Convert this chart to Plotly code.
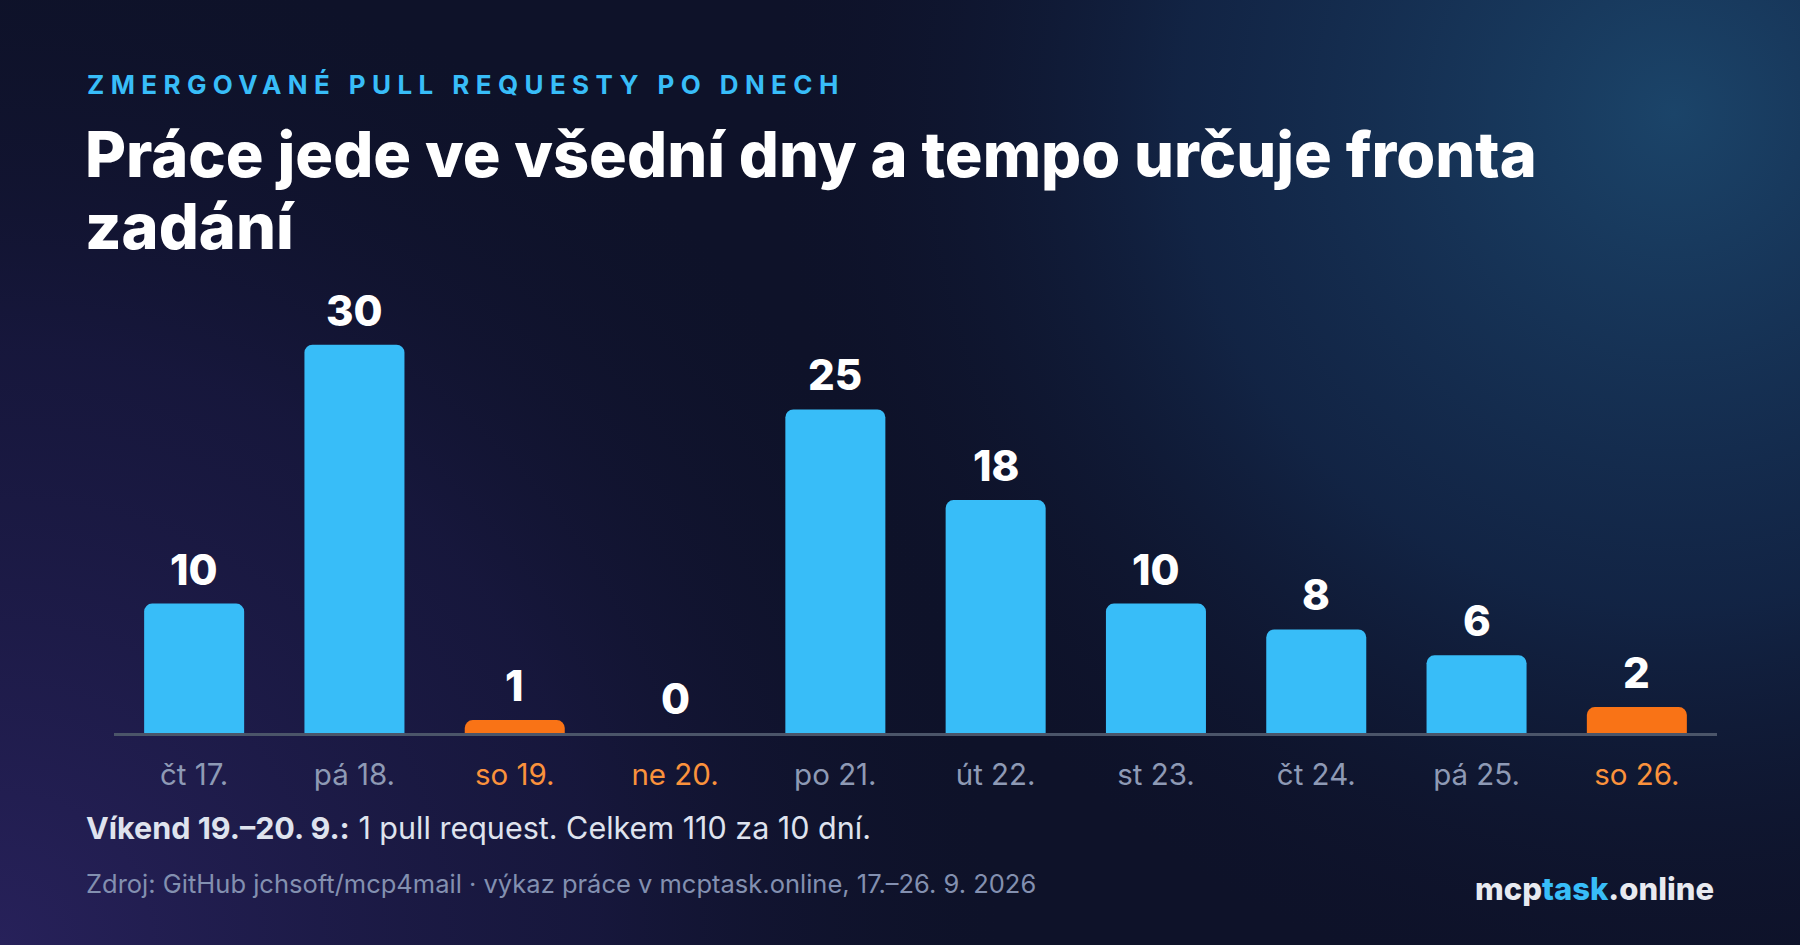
import base64
import plotly.graph_objects as go

# data
days = ['čt 17.', 'pá 18.', 'so 19.', 'ne 20.', 'po 21.', 'út 22.', 'st 23.', 'čt 24.', 'pá 25.', 'so 26.']
merged_prs = [10, 30, 1, 0, 25, 18, 10, 8, 6, 2]
weekend = [False, False, True, True, False, False, False, False, False, True]

eyebrow = 'ZMERGOVANÉ PULL REQUESTY PO DNECH'
headline = ['Práce jede ve všední dny a tempo určuje fronta', 'zadání']
note_bold = 'Víkend 19.–20. 9.:'
note_rest = ' 1 pull request. Celkem 110 za 10 dní.'
source = 'Zdroj: GitHub jchsoft/mcp4mail · výkaz práce v mcptask.online, 17.–26. 9. 2026'

BLUE = '#38bdf8'
ORANGE = '#f97316'
FONT = 'Inter, Roboto, sans-serif'

#%% layout helpers
W, H = 1800, 945
ml, mr, mt, mb = 114, 83, 293, 212
pw = W - ml - mr
ph = H - mt - mb
y_max = 34


def px_x(px):
    return (px - ml) / pw


def px_y(py):
    return (H - mb - py) / ph


# background gradient as an svg image
bg_svg = f"""<svg xmlns='http://www.w3.org/2000/svg' width='{W}' height='{H}' viewBox='0 0 {W} {H}'>
<defs>
<radialGradient id='tr' cx='{W*0.93}' cy='{H*0.12}' r='900' gradientUnits='userSpaceOnUse'>
<stop offset='0' stop-color='#1b4469' stop-opacity='1'/>
<stop offset='0.55' stop-color='#15325a' stop-opacity='0.55'/>
<stop offset='1' stop-color='#0f1430' stop-opacity='0'/>
</radialGradient>
<radialGradient id='bl' cx='0' cy='{H}' r='1000' gradientUnits='userSpaceOnUse'>
<stop offset='0' stop-color='#27215a' stop-opacity='1'/>
<stop offset='0.6' stop-color='#1c1a48' stop-opacity='0.6'/>
<stop offset='1' stop-color='#10132e' stop-opacity='0'/>
</radialGradient>
</defs>
<rect width='100%' height='100%' fill='#0e1229'/>
<rect width='100%' height='100%' fill='url(#bl)'/>
<rect width='100%' height='100%' fill='url(#tr)'/>
</svg>"""
bg_uri = 'data:image/svg+xml;base64,' + base64.b64encode(bg_svg.encode('utf-8')).decode()

#%% figure
colors = [ORANGE if w else BLUE for w in weekend]
tick_text = [f'<span style="color:#fb923c">{d}</span>' if w else d for d, w in zip(days, weekend)]

fig = go.Figure(go.Bar(
    x=days,
    y=merged_prs,
    marker=dict(color=colors, cornerradius=8, line_width=0),
    hoverinfo='skip',
))

annotations = []
for d, v in zip(days, merged_prs):
    annotations.append(dict(
        x=d, y=v, xref='x', yref='y', text=str(v), showarrow=False,
        yanchor='bottom', yshift=7,
        font=dict(family=FONT, size=42, color='white', weight=800),
    ))

annotations += [
    dict(x=px_x(85), y=px_y(84.5), xref='paper', yref='paper', text=eyebrow,
         showarrow=False, xanchor='left', yanchor='middle', align='left',
         font=dict(family=FONT, size=26, color=BLUE, weight=700)),
    dict(x=px_x(83), y=px_y(154), xref='paper', yref='paper', text=headline[0],
         showarrow=False, xanchor='left', yanchor='middle',
         font=dict(family=FONT, size=63, color='white', weight=800)),
    dict(x=px_x(83), y=px_y(226), xref='paper', yref='paper', text=headline[1],
         showarrow=False, xanchor='left', yanchor='middle',
         font=dict(family=FONT, size=63, color='white', weight=800)),
    dict(x=px_x(84), y=px_y(827.5), xref='paper', yref='paper',
         text=f'<b>{note_bold}</b>{note_rest}',
         showarrow=False, xanchor='left', yanchor='middle',
         font=dict(family=FONT, size=30.5, color='#dfe3ee')),
    dict(x=px_x(84), y=px_y(883), xref='paper', yref='paper', text=source,
         showarrow=False, xanchor='left', yanchor='middle',
         font=dict(family=FONT, size=25.5, color='#8390b0')),
    dict(x=px_x(1716), y=px_y(888), xref='paper', yref='paper',
         text=f'mcp<span style="color:{BLUE}">task</span>.online',
         showarrow=False, xanchor='right', yanchor='middle',
         font=dict(family=FONT, size=31, color='#e8eaf0', weight=800)),
]

fig.update_layout(
    width=W, height=H,
    margin=dict(l=ml, r=mr, t=mt, b=mb, pad=0),
    paper_bgcolor='#0f1430',
    plot_bgcolor='rgba(0,0,0,0)',
    bargap=0.376,
    showlegend=False,
    annotations=annotations,
    images=[dict(
        source=bg_uri, xref='paper', yref='paper',
        x=px_x(0), y=px_y(0), sizex=W / pw, sizey=H / ph,
        xanchor='left', yanchor='top', sizing='stretch', layer='below',
    )],
    font=dict(family=FONT),
)

fig.update_xaxes(
    tickvals=days, ticktext=tick_text,
    tickfont=dict(family=FONT, size=29.5, color='#8e9ab5'),
    showline=True, linecolor='#4b5569', linewidth=3,
    showgrid=False, zeroline=False, ticks='', ticklabelstandoff=14,
    fixedrange=True,
)
fig.update_yaxes(
    range=[0, y_max], visible=False, showgrid=False, zeroline=False, fixedrange=True,
)

# no page margin, and wide letter spacing for the eyebrow line
post = """
document.body.style.margin = '0';
var gd = document.getElementById('{plot_id}');
gd.querySelectorAll('text.annotation-text').forEach(function(t){
  if (t.textContent.indexOf('ZMERGOVAN') === 0) { t.style.letterSpacing = '6.4px'; }
});
"""

fig.write_html('out.html', config={'displayModeBar': False}, post_script=post)
